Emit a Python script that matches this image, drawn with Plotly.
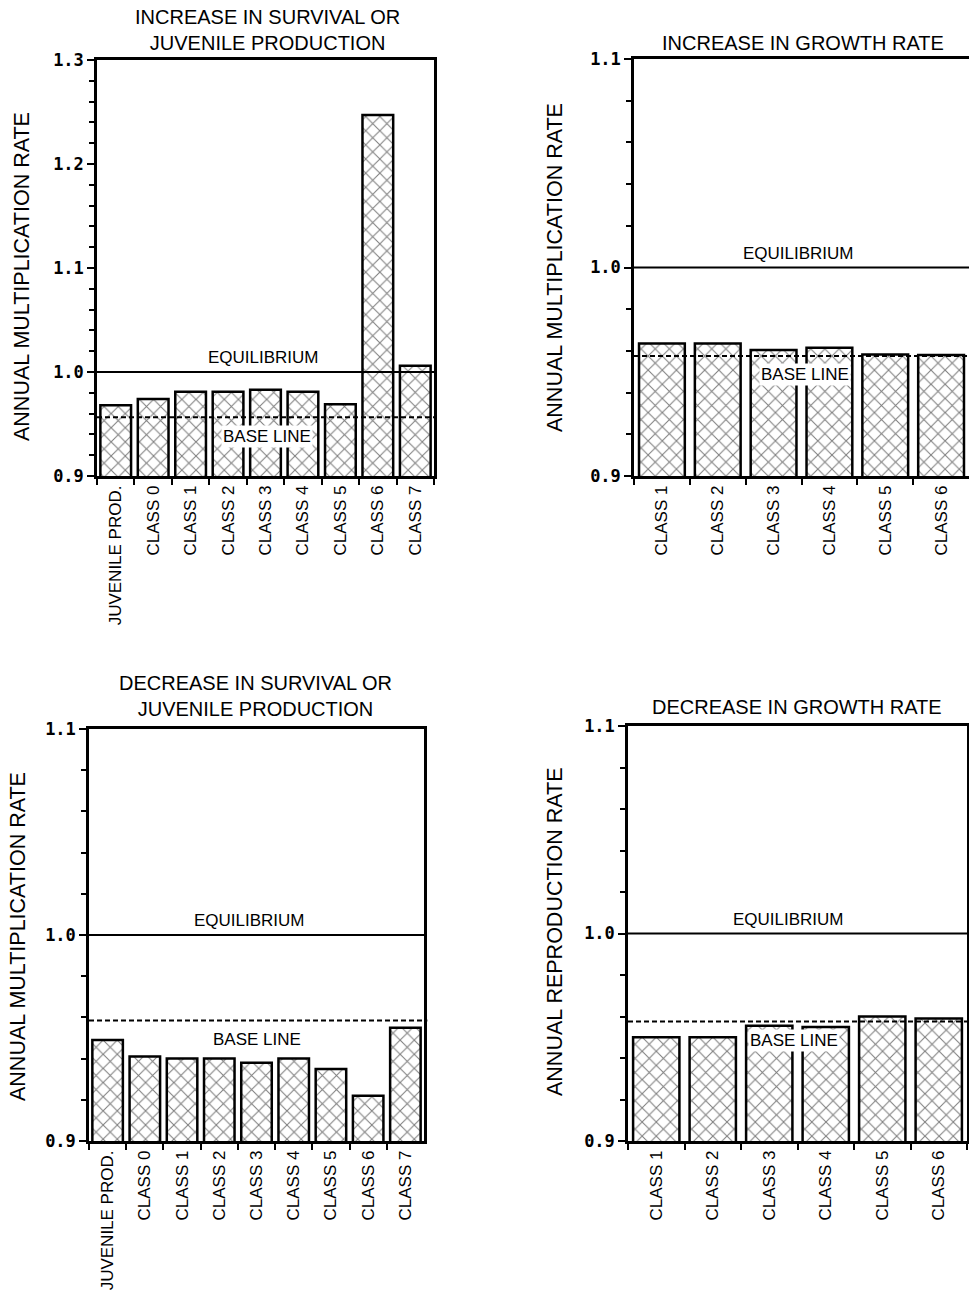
import plotly.graph_objects as go

# ---- data -------------------------------------------------------------
survival_cats = ["JUVENILE PROD.", "CLASS 0", "CLASS 1", "CLASS 2", "CLASS 3",
                 "CLASS 4", "CLASS 5", "CLASS 6", "CLASS 7"]
growth_cats = ["CLASS 1", "CLASS 2", "CLASS 3", "CLASS 4", "CLASS 5", "CLASS 6"]

inc_survival = [0.968, 0.974, 0.981, 0.981, 0.983, 0.981, 0.969, 1.247, 1.006]
inc_growth = [0.9636, 0.9636, 0.9604, 0.9615, 0.9583, 0.9580]
dec_survival = [0.949, 0.941, 0.940, 0.940, 0.938, 0.940, 0.935, 0.922, 0.955]
dec_growth = [0.950, 0.950, 0.9555, 0.955, 0.960, 0.959]

EQUILIBRIUM = 1.0
base_lines = [0.9565, 0.9576, 0.9585, 0.9576]

titles = ["INCREASE IN SURVIVAL OR<br>JUVENILE PRODUCTION",
          "INCREASE IN GROWTH RATE",
          "DECREASE IN SURVIVAL OR<br>JUVENILE PRODUCTION",
          "DECREASE IN GROWTH RATE"]
y_titles = ["ANNUAL MULTIPLICATION RATE", "ANNUAL MULTIPLICATION RATE",
            "ANNUAL MULTIPLICATION RATE", "ANNUAL REPRODUCTION RATE"]
y_ranges = [[0.9, 1.3], [0.9, 1.1], [0.9, 1.1], [0.9, 1.1]]
y_ticks = [[0.9, 1.0, 1.1, 1.2, 1.3], [0.9, 1.0, 1.1], [0.9, 1.0, 1.1], [0.9, 1.0, 1.1]]

# ---- layout geometry (pixels) ----------------------------------------
W, H = 969, 1309
panels = [
    dict(x0=97, x1=434, y0=60, y1=476),
    dict(x0=634, x1=969, y0=59, y1=476),
    dict(x0=89, x1=424, y0=729, y1=1141),
    dict(x0=628, x1=967, y0=726, y1=1141),
]
right_border = [True, False, True, True]
base_extent = [1.0, 1.0, 1.01, 1.0]
title_pos = [(267, 30), (803, 43), (255, 696), (797, 707)]
ytitle_pos = [(22, 277), (555, 268), (18, 937), (555, 932)]
equil_x = [0.493, 0.49, 0.48, 0.472]
base_x = [0.504, 0.51, 0.50, 0.49]

FONT = "Liberation Sans, Arial, sans-serif"

series = [(survival_cats, inc_survival), (growth_cats, inc_growth),
          (survival_cats, dec_survival), (growth_cats, dec_growth)]

fig = go.Figure()
layout = dict(
    width=W, height=H, margin=dict(l=0, r=0, t=0, b=0, autoexpand=False),
    paper_bgcolor="white", plot_bgcolor="white", showlegend=False,
    font=dict(family=FONT, color="black"),
)
annotations = []
shapes = []

for i, ((cats, vals), p) in enumerate(zip(series, panels)):
    n = i + 1
    xa = "x" if n == 1 else f"x{n}"
    ya = "y" if n == 1 else f"y{n}"
    fig.add_trace(go.Bar(
        x=cats, y=vals, xaxis=xa, yaxis=ya, width=0.82,
        marker=dict(color="white",
                    line=dict(color="black", width=2.5),
                    pattern=dict(shape="x", size=10, solidity=0.2,
                                 fgcolor="black", bgcolor="white")),
    ))
    dom_x = [p["x0"] / W, p["x1"] / W]
    dom_y = [1 - p["y1"] / H, 1 - p["y0"] / H]
    layout[f"xaxis{'' if n == 1 else n}"] = dict(
        domain=dom_x, anchor=ya, type="category", automargin=False,
        range=[-0.5, len(cats) - 0.5],
        showline=True, linewidth=2.5, linecolor="black", mirror=True,
        ticks="outside", tickson="boundaries", ticklen=6, tickwidth=2,
        tickcolor="black", tickangle=-90, showgrid=False,
        tickfont=dict(family=FONT, size=17, color="black"),
    )
    layout[f"yaxis{'' if n == 1 else n}"] = dict(
        domain=dom_y, anchor=xa, range=y_ranges[i], automargin=False,
        tickvals=y_ticks[i], ticktext=[f"{v:.1f}" for v in y_ticks[i]],
        showline=True, linewidth=2.5, linecolor="black",
        mirror=right_border[i],
        ticks="outside", ticklen=7, tickwidth=2, tickcolor="black",
        minor=dict(dtick=0.02, ticks="outside", ticklen=5, tickwidth=2,
                   tickcolor="black", showgrid=False),
        showgrid=False, zeroline=False,
        tickfont=dict(family="DejaVu Sans Mono", size=17, color="black",
                      weight="bold"),
    )
    # equilibrium and base lines
    shapes.append(dict(type="line", xref=f"{xa} domain", yref=ya,
                       x0=0, x1=1, y0=EQUILIBRIUM, y1=EQUILIBRIUM,
                       line=dict(color="black", width=2), layer="above"))
    shapes.append(dict(type="line", xref=f"{xa} domain", yref=ya,
                       x0=0, x1=base_extent[i], y0=base_lines[i], y1=base_lines[i],
                       line=dict(color="black", width=2, dash="5px,3px"),
                       layer="above"))
    annotations.append(dict(
        text="EQUILIBRIUM", xref=f"{xa} domain", yref=ya,
        x=equil_x[i], y=EQUILIBRIUM, yanchor="bottom", yshift=3,
        showarrow=False, font=dict(family=FONT, size=17, color="black")))
    annotations.append(dict(
        text="BASE LINE", xref=f"{xa} domain", yref=ya,
        x=base_x[i], y=base_lines[i], yanchor="middle", yshift=-19,
        showarrow=False, bgcolor="white", borderpad=1,
        font=dict(family=FONT, size=17, color="black")))
    tx, ty = title_pos[i]
    annotations.append(dict(
        text=titles[i], xref="paper", yref="paper",
        x=tx / W, y=1 - ty / H, xanchor="center", yanchor="middle",
        showarrow=False, font=dict(family=FONT, size=20, color="black")))
    ax_, ay_ = ytitle_pos[i]
    annotations.append(dict(
        text=y_titles[i], xref="paper", yref="paper",
        x=ax_ / W, y=1 - ay_ / H, xanchor="center", yanchor="middle",
        textangle=-90, showarrow=False,
        font=dict(family=FONT, size=21.5, color="black")))

layout["annotations"] = annotations
layout["shapes"] = shapes
fig.update_layout(**layout)
fig.write_html("out.html")
